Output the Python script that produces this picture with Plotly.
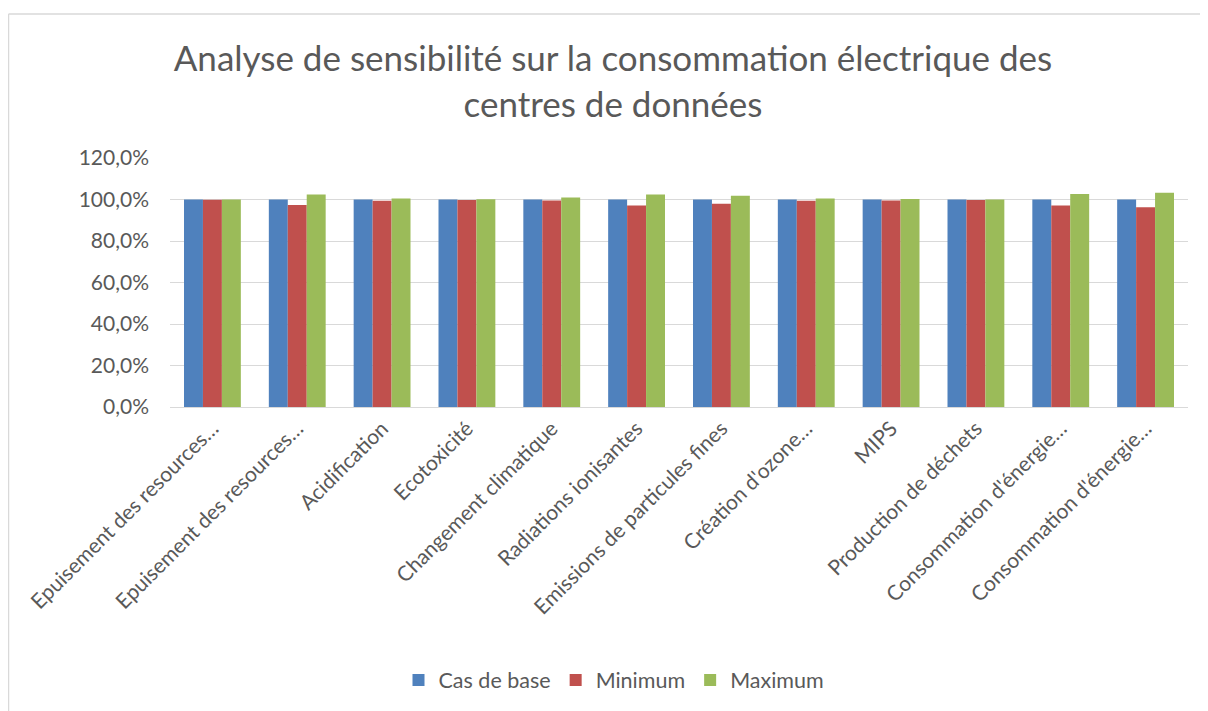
import plotly.graph_objects as go

categories = [
    "Epuisement des resources…",
    "Epuisement des resources…",
    "Acidification",
    "Ecotoxicité",
    "Changement climatique",
    "Radiations ionisantes",
    "Emissions de particules fines",
    "Création d'ozone…",
    "MIPS",
    "Production de déchets",
    "Consommation d'énergie…",
    "Consommation d'énergie…",
]
cas_de_base = [1.0] * 12
minimum = [0.999, 0.974, 0.994, 0.997, 0.995, 0.971, 0.979, 0.994, 0.995, 0.998, 0.971, 0.963]
maximum = [1.000, 1.024, 1.005, 1.001, 1.010, 1.024, 1.018, 1.005, 1.003, 1.000, 1.026, 1.033]
y_ticks = [0, 0.2, 0.4, 0.6, 0.8, 1.0, 1.2]

x_idx = list(range(len(categories)))

colors = {"Cas de base": "#4F81BD", "Minimum": "#C0504D", "Maximum": "#9BBB59"}
fig = go.Figure()
for name, vals in [("Cas de base", cas_de_base), ("Minimum", minimum), ("Maximum", maximum)]:
    fig.add_trace(go.Bar(x=x_idx, y=vals, name=name, marker_color=colors[name],
                         marker_line_width=0))

FONT = "Lato, 'Open Sans', sans-serif"
OFF = 8  # page body margin
W, H = 1208 - OFF, 711 - OFF
plot_l, plot_r, plot_t, plot_b = 170 - OFF, 1188 - OFF, 158 - OFF, 408 - OFF
ml, mr, mt, mb = plot_l, W - plot_r, plot_t, H - plot_b
pw, ph = W - ml - mr, H - mt - mb

def px_x(x):
    return (x - OFF - ml) / pw

def px_y(y):
    return (plot_b - (y - OFF)) / ph

fig.update_layout(
    width=W, height=H,
    margin=dict(l=ml, r=mr, t=mt, b=mb),
    paper_bgcolor="white", plot_bgcolor="white",
    separators=", ",
    barmode="group", bargap=0.33, bargroupgap=0,
    title=dict(text="Analyse de sensibilité sur la consommation électrique des<br>centres de données",
               x=(613 - OFF) / W, xanchor="center", y=1 - (71 - OFF) / H, yanchor="middle",
               font=dict(family=FONT, size=35, color="#595959")),
    font=dict(family=FONT, color="#595959", size=21),
    legend=dict(orientation="h", x=px_x(614), xanchor="center", y=px_y(680), yanchor="middle",
                font=dict(size=21.5, color="#595959"), traceorder="normal",
                itemwidth=30),
    xaxis=dict(tickmode="array", tickvals=x_idx, ticktext=categories, tickangle=-45,
               showgrid=False, showline=True, linecolor="#D9D9D9", linewidth=1,
               ticks="", tickfont=dict(size=21, color="#595959"), range=[-0.5, 11.5]),
    yaxis=dict(range=[0, 1.2], tickvals=y_ticks, tickformat=".1%",
               showgrid=True, gridcolor="#D9D9D9", gridwidth=1, zeroline=False,
               showline=False, ticks="", ticklabelstandoff=20,
               tickfont=dict(size=21, color="#595959")),
    shapes=[
        dict(type="line", xref="paper", yref="paper", x0=px_x(8.5), x1=px_x(1230),
             y0=px_y(13.5), y1=px_y(13.5), line=dict(color="#D9D9D9", width=1.5)),
        dict(type="line", xref="paper", yref="paper", x0=px_x(8.5), x1=px_x(8.5),
             y0=px_y(13.5), y1=px_y(730), line=dict(color="#D9D9D9", width=1.5)),
    ],
)

fig.write_html("out.html")
